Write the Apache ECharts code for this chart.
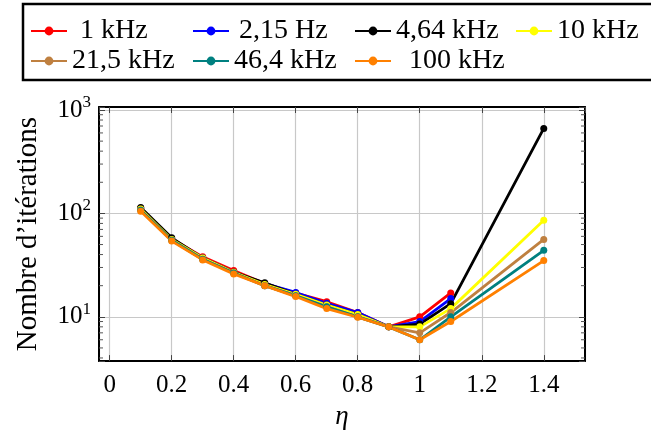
<!DOCTYPE html>
<html>
<head>
<meta charset="utf-8">
<script src="https://cdn.jsdelivr.net/npm/echarts@6/dist/echarts.min.js"></script>
<style>
html,body{margin:0;padding:0;background:#fff;}
#chart{width:651px;height:435px;}
</style>
</head>
<body>
<div id="chart"></div>
<script>
// ---- data ----
const etaValues = [0.1, 0.2, 0.3, 0.4, 0.5, 0.6, 0.7, 0.8, 0.9, 1.0, 1.1, 1.4];
const seriesNames = ['1 kHz', '2,15 Hz', '4,64 kHz', '10 kHz', '21,5 kHz', '46,4 kHz', '100 kHz'];
const iter1k    = [112, 57, 38, 28, 21, 17, 14, 11, 8, 10, 17];
const iter2k15  = [112, 57, 37, 27, 21, 17.2, 13.5, 11, 8, 9, 15];
const iter4k64  = [114, 58, 37, 27, 21.3, 16.5, 13, 10.5, 8, 8.5, 13.4, 664];
const iter10k   = [110, 56, 37, 27, 20.5, 16.5, 13, 10.5, 8, 8, 12, 86];
const iter21k5  = [108, 55, 36, 26.5, 20, 16, 12.5, 10, 8, 7, 11, 56];
const iter46k4  = [107, 55, 36, 26.5, 20, 16, 12.5, 10, 8, 6, 10, 44];
const iter100k  = [105, 54, 35.5, 26, 20, 15.7, 12, 9.9, 8, 6, 9, 35];
const yMinorTicks = [4, 5, 6, 7, 8, 9, 20, 30, 40, 50, 60, 70, 80, 90, 200, 300, 400, 500, 600, 700, 800, 900];

const allValues = [iter1k, iter2k15, iter4k64, iter10k, iter21k5, iter46k4, iter100k];
const colors = ['#ff0000', '#0000ff', '#000000', '#ffff00', '#bf8040', '#008080', '#ff8000'];

const FONT = "'Liberation Serif', 'Times New Roman', serif";
const X_MIN = -0.0345, X_MAX = 1.533;
const Y_MIN = 3.73, Y_MAX = 1069;

const chart = echarts.init(document.getElementById('chart'), null, {renderer: 'canvas'});

const lineSeries = seriesNames.map((name, i) => ({
  name: name,
  type: 'line',
  xAxisIndex: 0, yAxisIndex: 0,
  data: allValues[i].map((v, j) => [etaValues[j], v]),
  symbol: 'circle',
  symbolSize: 7,
  lineStyle: {width: 2.8, color: colors[i]},
  itemStyle: {color: colors[i]},
  animation: false,
  z: 3
}));

const minorSeries = {
  type: 'custom',
  xAxisIndex: 0, yAxisIndex: 0,
  silent: true,
  animation: false,
  data: yMinorTicks.map(v => [0, v]),
  renderItem: function (params, api) {
    const cs = params.coordSys;
    const y = api.coord([0, api.value(1)])[1];
    const st = {stroke: '#555', lineWidth: 1};
    return {
      type: 'group',
      children: [
        {type: 'line', shape: {x1: cs.x, y1: y, x2: cs.x + 4, y2: y}, style: st},
        {type: 'line', shape: {x1: cs.x + cs.width - 4, y1: y, x2: cs.x + cs.width, y2: y}, style: st}
      ]
    };
  },
  z: 2
};

// legend layout
const legendPos = [
  {left: 30, top: 17, pad: 8},
  {left: 192, top: 17, pad: 5},
  {left: 354, top: 17, pad: 0},
  {left: 515, top: 17, pad: 0},
  {left: 30, top: 47, pad: 0},
  {left: 192, top: 47, pad: 0},
  {left: 354, top: 47, pad: 13}
];
const legends = seriesNames.map((name, i) => ({
  data: [name],
  left: legendPos[i].left,
  top: legendPos[i].top,
  padding: 0,
  itemWidth: 36,
  itemHeight: 11,
  selectedMode: false,
  textStyle: {fontFamily: FONT, fontSize: 28, color: '#000', padding: [0, 0, 0, legendPos[i].pad]}
}));

function supFmt(v) {
  const l = Math.log10(v);
  if (Math.abs(l - Math.round(l)) > 1e-6) return '';
  return '{b|10}{s|' + Math.round(l) + '}';
}

const axisTickStyle = {show: true, inside: true, length: 6, lineStyle: {color: '#444', width: 1}};

const option = {
  backgroundColor: '#fff',
  animation: false,
  textStyle: {fontFamily: FONT},
  grid: {left: 99, top: 107, width: 486, height: 258, containLabel: false},
  legend: legends,
  graphic: [{
    type: 'rect',
    shape: {x: 23, y: 4, width: 640, height: 76},
    style: {fill: 'none', stroke: '#000', lineWidth: 2.5},
    z: 10
  }],
  xAxis: [{
    type: 'value', min: X_MIN, max: X_MAX, splitNumber: 8,
    position: 'bottom',
    name: 'η', nameLocation: 'middle', nameGap: 36,
    nameTextStyle: {fontFamily: FONT, fontSize: 27, fontStyle: 'italic', color: '#000'},
    axisLine: {show: true, onZero: false, lineStyle: {color: '#000', width: 2}},
    axisTick: axisTickStyle,
    axisLabel: {showMinLabel: false, showMaxLabel: false, fontFamily: FONT, fontSize: 25, color: '#000', margin: 12},
    splitLine: {show: true, lineStyle: {color: '#c8c8c8', width: 1.2}}
  }, {
    type: 'value', min: X_MIN, max: X_MAX, splitNumber: 8,
    position: 'top',
    axisLine: {show: true, onZero: false, lineStyle: {color: '#000', width: 2}},
    axisTick: axisTickStyle,
    axisLabel: {show: false},
    splitLine: {show: false}
  }],
  yAxis: [{
    type: 'log', logBase: 10, min: Y_MIN, max: Y_MAX,
    position: 'left',
    name: 'Nombre d’itérations', nameLocation: 'middle', nameGap: 56,
    nameTextStyle: {fontFamily: FONT, fontSize: 29, color: '#000'},
    axisLine: {show: true, onZero: false, lineStyle: {color: '#000', width: 2}},
    axisTick: axisTickStyle,
    axisLabel: {
      formatter: supFmt, margin: 8, color: '#000',
      rich: {
        b: {fontFamily: FONT, fontSize: 25, color: '#000'},
        s: {fontFamily: FONT, fontSize: 17, color: '#000', padding: [0, 0, 15, 0]}
      }
    },
    splitLine: {show: true, lineStyle: {color: '#c8c8c8', width: 1.2}}
  }, {
    type: 'log', logBase: 10, min: Y_MIN, max: Y_MAX,
    position: 'right',
    axisLine: {show: true, onZero: false, lineStyle: {color: '#000', width: 2}},
    axisTick: axisTickStyle,
    axisLabel: {show: false},
    splitLine: {show: false}
  }],
  series: lineSeries.concat([minorSeries])
};

chart.setOption(option);
</script>
</body>
</html>
